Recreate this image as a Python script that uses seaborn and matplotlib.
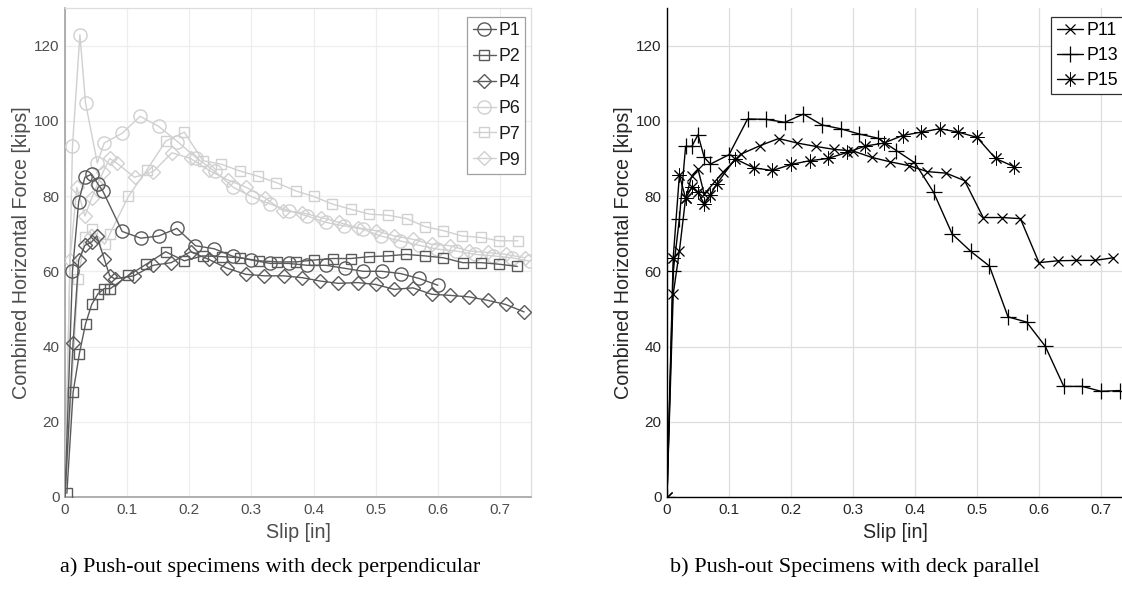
import matplotlib
matplotlib.use("Agg")
import matplotlib.pyplot as plt
import seaborn as sns
import pandas as pd

# ---------------- data ----------------
# a) deck perpendicular
p1_x = [0, 0.012, 0.022, 0.032, 0.043, 0.053, 0.061, 0.092, 0.122, 0.151, 0.18, 0.21, 0.24, 0.27,
        0.30, 0.33, 0.36, 0.39, 0.42, 0.45, 0.48, 0.51, 0.54, 0.57, 0.60]
p1_y = [0, 60, 78.5, 85, 85.8, 83.2, 81.3, 70.6, 68.8, 69.4, 71.4, 66.8, 66, 64,
        63, 62.1, 62.1, 61.6, 61.6, 60.8, 60, 60, 59.4, 58.1, 56.3]

p2_x = [0.003, 0.013, 0.023, 0.033, 0.043, 0.053, 0.063, 0.073, 0.102, 0.131, 0.162, 0.192, 0.222,
        0.252, 0.282, 0.312, 0.342, 0.372, 0.401, 0.431, 0.46, 0.49, 0.52, 0.549, 0.579, 0.609,
        0.64, 0.669, 0.698, 0.728]
p2_y = [1, 27.8, 38, 46, 51.2, 54, 55.4, 55.4, 58.9, 61.9, 65.2, 62.8, 64.1,
        63.9, 63.6, 62.8, 62.5, 62.5, 63, 63.4, 63.4, 63.9, 64.1, 64.5, 64.1, 63.6,
        62.3, 62.3, 61.9, 61.3]

p4_x = [0, 0.013, 0.022, 0.032, 0.043, 0.051, 0.063, 0.072, 0.08, 0.111, 0.142, 0.171, 0.202, 0.231,
        0.261, 0.291, 0.321, 0.352, 0.382, 0.411, 0.44, 0.471, 0.50, 0.53, 0.56, 0.59, 0.62,
        0.65, 0.68, 0.709, 0.739]
p4_y = [0, 41, 63, 66.9, 67.8, 69.4, 63.4, 58.8, 58, 58.8, 61.6, 62.3, 65.2, 63.2,
        60.8, 59.2, 58.8, 58.8, 58.3, 57.4, 56.8, 57, 56.5, 55.2, 55.6, 53.9, 53.6,
        53.2, 52.3, 51.2, 49.2]

p6_x = [0, 0.012, 0.024, 0.033, 0.052, 0.063, 0.092, 0.121, 0.151, 0.181, 0.211, 0.241, 0.271, 0.301,
        0.33, 0.361, 0.39, 0.42, 0.449, 0.479, 0.508, 0.539, 0.57, 0.599, 0.629, 0.66, 0.689,
        0.719, 0.748]
p6_y = [0, 93.2, 122.9, 104.8, 88.8, 94.1, 96.7, 101.2, 98.5, 94.5, 90.2, 86.6, 82.3, 79.8,
        77.9, 76.1, 74.7, 73, 72.1, 71.2, 69.4, 68.1, 66.9, 65.9, 65.4, 64.5, 64.1,
        63.6, 62.7]

p7_x = [0, 0.021, 0.032, 0.043, 0.064, 0.072, 0.102, 0.132, 0.162, 0.192, 0.222, 0.251, 0.281, 0.31,
        0.34, 0.371, 0.40, 0.43, 0.46, 0.49, 0.52, 0.55, 0.579, 0.609, 0.639, 0.669, 0.699, 0.729]
p7_y = [0, 57.9, 69.2, 71.2, 67.2, 69.9, 79.9, 87, 94.6, 97, 89.4, 88.5, 86.7, 85.3,
        83.6, 81.4, 79.9, 77.9, 76.5, 75.2, 74.9, 74, 71.9, 70.8, 69.4, 69, 68.1, 68.1]

p9_x = [0, 0.008, 0.019, 0.032, 0.043, 0.052, 0.061, 0.072, 0.083, 0.112, 0.142, 0.172, 0.202, 0.232,
        0.262, 0.292, 0.322, 0.351, 0.381, 0.412, 0.441, 0.471, 0.50, 0.53, 0.56, 0.59, 0.62,
        0.65, 0.68, 0.709, 0.74]
p9_y = [0, 63, 82.3, 74.7, 79.5, 83, 86.3, 90, 88.8, 85, 86.5, 91.5, 90, 86.8,
        84.3, 82.3, 79.5, 76.1, 75.6, 74.3, 73, 71.6, 70.8, 69.4, 68.5, 67.2, 66.8,
        65.4, 65, 64.5, 63.6]

# b) deck parallel
p11_x = [0, 0.01, 0.02, 0.03, 0.04, 0.05, 0.06, 0.09, 0.12, 0.15, 0.18, 0.21, 0.24, 0.27, 0.30,
         0.33, 0.36, 0.39, 0.42, 0.45, 0.48, 0.51, 0.54, 0.57, 0.60, 0.63, 0.66, 0.69, 0.72]
p11_y = [0, 53.9, 65.4, 79.4, 85.4, 87.2, 80.5, 86.3, 91.2, 93.4, 95.3, 94.1, 93.2, 92.4, 92,
         90.3, 89.1, 88.1, 86.5, 86.1, 84.1, 74.3, 74.3, 74, 62.3, 62.8, 62.9, 62.9, 63.6]

p13_x = [0, 0.01, 0.02, 0.03, 0.04, 0.05, 0.06, 0.07, 0.10, 0.13, 0.16, 0.19, 0.22, 0.25, 0.28,
         0.31, 0.34, 0.37, 0.40, 0.43, 0.46, 0.49, 0.52, 0.55, 0.58, 0.61, 0.64, 0.67, 0.70, 0.73]
p13_y = [0, 60, 74, 93.2, 93.2, 96.3, 90.3, 88.5, 91, 100.5, 100.4, 99.6, 101.8, 98.9, 97.9,
         96.5, 95.4, 92.1, 88.8, 81, 69.9, 65.3, 61.4, 47.9, 46.5, 40.1, 29.4, 29.4, 28.1, 28.3]

p15_x = [0, 0.01, 0.02, 0.03, 0.04, 0.05, 0.06, 0.07, 0.08, 0.11, 0.14, 0.17, 0.20, 0.23, 0.26,
         0.29, 0.32, 0.35, 0.38, 0.41, 0.44, 0.47, 0.50, 0.53, 0.56]
p15_y = [0, 63.6, 85.6, 79.4, 82.3, 81, 77.9, 80.3, 83.2, 89.9, 87.5, 86.8, 88.4, 89.4, 90,
         91.6, 93.3, 94.1, 96.1, 97, 97.9, 97, 95.6, 90, 87.8]

x_ticks = [0, 0.1, 0.2, 0.3, 0.4, 0.5, 0.6, 0.7]
x_tick_labels = ["0", "0.1", "0.2", "0.3", "0.4", "0.5", "0.6", "0.7"]
y_ticks = [0, 20, 40, 60, 80, 100, 120]
y_tick_labels = ["0", "20", "40", "60", "80", "100", "120"]
x_label = "Slip [in]"
y_label = "Combined Horizontal Force [kips]"
caption_a = "a) Push-out specimens with deck perpendicular"
caption_b = "b) Push-out Specimens with deck parallel"

# ---------------- style ----------------
sns.set_theme(style="white")
plt.rcParams["font.family"] = ["Liberation Sans", "DejaVu Sans"]

fig = plt.figure(figsize=(11.22, 5.92), dpi=100)
ax_a = fig.add_axes([65 / 1122, 95 / 592, 466 / 1122, 489 / 592])
ax_b = fig.add_axes([667 / 1122, 95 / 592, 456 / 1122, 489 / 592])

dark = "#5a5a5a"
light = "#d0d0d0"

left_series = [
    ("P1", p1_x, p1_y, "o", 9.5, dark, 1, 5),
    ("P2", p2_x, p2_y, "s", 7.5, dark, 0, 5),
    ("P4", p4_x, p4_y, "D", 7.0, dark, 1, 5),
    ("P6", p6_x, p6_y, "o", 9.5, light, 1, 3),
    ("P7", p7_x, p7_y, "s", 7.5, light, 1, 3),
    ("P9", p9_x, p9_y, "D", 7.0, light, 1, 3),
]
for name, xs, ys, mk, ms, col, start, z in left_series:
    df = pd.DataFrame({"slip": xs, "force": ys})
    sns.lineplot(data=df, x="slip", y="force", ax=ax_a, sort=False, estimator=None,
                 color=col, linewidth=1.0, marker=mk, markersize=ms,
                 markerfacecolor="none", markeredgecolor=col, markeredgewidth=1.0,
                 markevery=slice(start, None), label=name, zorder=z)

right_series = [
    ("P11", p11_x, p11_y, "x", 7.5, 0.9),
    ("P13", p13_x, p13_y, "+", 11, 0.9),
    ("P15", p15_x, p15_y, (8, 2, 0), 10, 0.7),
]
for name, xs, ys, mk, ms, mew in right_series:
    df = pd.DataFrame({"slip": xs, "force": ys})
    sns.lineplot(data=df, x="slip", y="force", ax=ax_b, sort=False, estimator=None,
                 color="black", linewidth=1.0, marker=mk, markersize=ms,
                 markerfacecolor="none", markeredgecolor="black", markeredgewidth=mew,
                 label=name, zorder=3)

# ---------------- axes formatting ----------------
for ax in (ax_a, ax_b):
    ax.set_xlim(0, 0.75 if ax is ax_a else 0.7355)
    ax.set_ylim(0, 130)
    ax.set_xticks(x_ticks)
    ax.set_xticklabels(x_tick_labels)
    ax.set_yticks(y_ticks)
    ax.set_yticklabels(y_tick_labels)
    ax.set_xlabel(x_label, fontsize=14.2, labelpad=5)
    ax.set_ylabel(y_label, fontsize=14.2, labelpad=2)
    ax.set_facecolor("white")

# left panel (faded)
ax_a.grid(True, color="#eeeeee", linewidth=0.9)
ax_a.set_axisbelow(True)
ax_a.tick_params(axis="both", direction="in", length=3, width=0.8, color="#999999",
                 labelsize=11, labelcolor="#4d4d4d", pad=4)
ax_a.xaxis.label.set_color("#4d4d4d")
ax_a.yaxis.label.set_color("#4d4d4d")
for side in ("left", "bottom"):
    ax_a.spines[side].set_color("#9a9a9a")
    ax_a.spines[side].set_linewidth(1.1)
for side in ("top", "right"):
    ax_a.spines[side].set_color("#dddddd")
    ax_a.spines[side].set_linewidth(0.9)

leg_a = ax_a.legend(loc="upper right", bbox_to_anchor=(0.988, 0.982), fontsize=12.8,
                    frameon=True, fancybox=False, framealpha=1, edgecolor="#a0a0a0",
                    handlelength=1.3, handletextpad=0.15, borderpad=0.3,
                    labelspacing=0.5, borderaxespad=0.0)
leg_a.get_frame().set_linewidth(0.9)
for t in leg_a.get_texts():
    t.set_color("#1a1a1a")

# right panel
ax_b.grid(True, color="#dedede", linewidth=0.9)
ax_b.set_axisbelow(True)
ax_b.tick_params(axis="both", direction="in", length=4.5, width=0.9, color="black",
                 labelsize=11, labelcolor="#262626", pad=4)
ax_b.xaxis.label.set_color("#262626")
ax_b.yaxis.label.set_color("#262626")
for side in ("left", "bottom"):
    ax_b.spines[side].set_color("black")
    ax_b.spines[side].set_linewidth(1.0)
for side in ("top", "right"):
    ax_b.spines[side].set_visible(False)

leg_b = ax_b.legend(loc="upper right", bbox_to_anchor=(1.0, 0.982), fontsize=12.8,
                    frameon=True, fancybox=False, framealpha=1, edgecolor="#303030",
                    handlelength=1.5, handletextpad=0.15, borderpad=0.3,
                    labelspacing=0.45, borderaxespad=0.0)
leg_b.get_frame().set_linewidth(0.9)
for t in leg_b.get_texts():
    t.set_color("black")

# captions
fig.text(270 / 1122, 1 - 567 / 592, caption_a, ha="center", va="center",
         fontsize=16, family=["Liberation Serif", "DejaVu Serif"], color="black")
fig.text(855 / 1122, 1 - 567 / 592, caption_b, ha="center", va="center",
         fontsize=16, family=["Liberation Serif", "DejaVu Serif"], color="black")

fig.savefig("out.png", dpi=100, facecolor="white")
